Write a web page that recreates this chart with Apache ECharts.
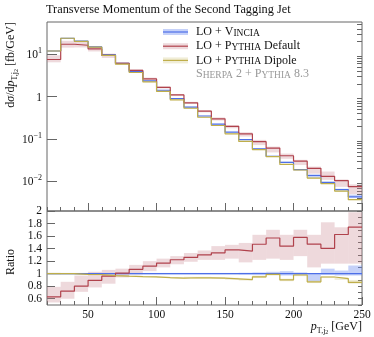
<!DOCTYPE html>
<html>
<head>
<meta charset="utf-8">
<script src="https://cdn.jsdelivr.net/npm/echarts@6.0.0/dist/echarts.min.js"></script>
<style>
html, body { margin: 0; padding: 0; background: #fff; }
#chart { width: 374px; height: 337px; }
</style>
</head>
<body>
<div id="chart"></div>
<script>
// bin edges in GeV
var binEdges = [20, 30, 40, 50, 60, 70, 80, 90, 100, 110, 120, 130, 140, 150, 160, 170, 180, 190, 200, 210, 220, 230, 240, 250];

// dsigma/dpT [fb/GeV]
var vincia = [12.0, 24.0, 20.5, 15.0, 9.8, 6.1, 3.9, 2.35, 1.42, 0.9, 0.57, 0.35, 0.225, 0.145, 0.097, 0.059, 0.039, 0.028, 0.019, 0.0138, 0.0094, 0.0064, 0.0043];
var pythiaDefault = [7.56, 17.3, 16.4, 13.4, 9.4, 6.16, 4.17, 2.63, 1.66, 1.10, 0.718, 0.455, 0.30, 0.20, 0.132, 0.0867, 0.0612, 0.0403, 0.030, 0.0203, 0.0132, 0.0104, 0.0075];
var pythiaDipole = [12.0, 24.0, 20.3, 14.8, 9.5, 5.86, 3.72, 2.23, 1.33, 0.837, 0.533, 0.327, 0.209, 0.133, 0.0878, 0.056, 0.0386, 0.0252, 0.0186, 0.0120, 0.0089, 0.0059, 0.0037];

// uncertainty bands, as ratio to Vincia
var vinciaLo = [0.988, 0.988, 0.988, 0.988, 0.988, 0.988, 0.988, 0.988, 0.988, 0.988, 0.988, 0.988, 0.988, 0.988, 0.985, 0.985, 0.99, 0.97, 0.98, 0.88, 0.98, 0.97, 0.97];
var vinciaHi = [1.012, 1.012, 1.012, 1.012, 1.012, 1.012, 1.012, 1.012, 1.012, 1.012, 1.012, 1.012, 1.012, 1.012, 1.015, 1.02, 1.03, 1.04, 1.02, 1.01, 1.08, 1.05, 1.13];
var defaultLo = [0.54, 0.60, 0.71, 0.78, 0.84, 0.94, 0.99, 1.04, 1.10, 1.15, 1.19, 1.22, 1.22, 1.24, 1.18, 1.22, 1.24, 1.22, 1.28, 1.10, 1.16, 1.16, 1.16];
var defaultHi = [0.79, 0.87, 0.97, 1.03, 1.06, 1.08, 1.14, 1.20, 1.24, 1.28, 1.33, 1.37, 1.44, 1.46, 1.49, 1.62, 1.70, 1.62, 1.70, 1.62, 1.82, 1.74, 1.98];
var dipoleLo = [0.985, 0.99, 0.98, 0.975, 0.96, 0.95, 0.945, 0.94, 0.93, 0.92, 0.92, 0.92, 0.915, 0.905, 0.89, 0.93, 0.97, 0.88, 0.96, 0.85, 0.93, 0.90, 0.84];
var dipoleHi = [1.015, 1.01, 1.00, 0.995, 0.98, 0.97, 0.965, 0.96, 0.95, 0.94, 0.95, 0.95, 0.945, 0.935, 0.92, 0.97, 1.01, 0.92, 1.00, 0.89, 0.96, 0.94, 0.90];

var xMajor = [50, 100, 150, 200, 250];
var ratioLabels = [0.6, 0.8, 1, 1.2, 1.4, 1.6, 1.8, 2];
var logLabels = [0.01, 0.1, 1, 10];

var F = 'Liberation Serif';
var tickColor = '#666';
var colors = {
    vincia: { line: '#4d6fe8', band: 'rgba(110,140,240,0.40)' },
    def: { line: '#b0424c', band: 'rgba(200,130,138,0.30)' },
    dip: { line: '#bfae4a', band: 'rgba(200,190,110,0.28)' }
};

// minor tick positions
var xMinor = [];
for (var e = 20; e <= 250; e += 10) xMinor.push(e);
var logMinor = [];
[0.001, 0.01, 0.1, 1, 10].forEach(function (d) {
    for (var k = 2; k <= 9; k++) logMinor.push(+(d * k).toPrecision(3));
});
var ratioMinor = [];
for (var r = 5; r <= 20; r++) ratioMinor.push(r / 10);

function steps(vals) {
    var d = vals.map(function (v, i) { return [binEdges[i], v]; });
    d.push([binEdges[vals.length], vals[vals.length - 1]]);
    return d;
}
function ratio(vals) {
    return vals.map(function (v, i) { return v / vincia[i]; });
}
function scale(r) {
    return r.map(function (v, i) { return v * vincia[i]; });
}
function lineSeries(name, data, color, xi, yi) {
    return {
        name: name, type: 'line', step: 'end', data: steps(data),
        xAxisIndex: xi, yAxisIndex: yi, showSymbol: false, silent: true,
        lineStyle: { color: color, width: 1.2 }, animation: false
    };
}
function bandSeries(lo, hi, color, xi, yi) {
    return {
        type: 'custom', xAxisIndex: xi, yAxisIndex: yi, silent: true, clip: true, animation: false,
        data: lo.map(function (l, i) { return [binEdges[i], binEdges[i + 1], l, hi[i]]; }),
        encode: { x: [0, 1], y: [2, 3] },
        renderItem: function (params, api) {
            var p0 = api.coord([api.value(0), api.value(3)]);
            var p1 = api.coord([api.value(1), api.value(2)]);
            return { type: 'rect', shape: { x: p0[0], y: p0[1], width: p1[0] - p0[0], height: p1[1] - p0[1] }, style: { fill: color } };
        }
    };
}
function xAxisDef(grid, ticks, len, labels) {
    return {
        type: 'value', gridIndex: grid, min: 20, max: 250, position: 'bottom',
        axisLine: { show: false, onZero: false }, splitLine: { show: false },
        axisTick: { show: true, inside: true, length: len, customValues: ticks, lineStyle: { color: tickColor } },
        axisLabel: labels ? { show: true, customValues: xMajor, margin: 4, fontFamily: F, fontSize: 11.5, color: '#111' } : { show: false }
    };
}

var richBase = {
    n: { fontFamily: F, fontSize: 12, fill: '#111', verticalAlign: 'middle', lineHeight: 16 },
    i: { fontFamily: F, fontSize: 12, fontStyle: 'italic', fill: '#111', verticalAlign: 'middle', lineHeight: 16 },
    s: { fontFamily: F, fontSize: 8, fill: '#111', verticalAlign: 'bottom', lineHeight: 10 },
    t: { fontFamily: F, fontSize: 6, fill: '#111', verticalAlign: 'bottom', lineHeight: 8 },
    sc: { fontFamily: F, fontSize: 9.5, fill: '#111', verticalAlign: 'middle', lineHeight: 14, padding: [2, 0, 0, 0] },
    g: { fontFamily: F, fontSize: 12, fill: '#999', verticalAlign: 'middle', lineHeight: 16 },
    gsc: { fontFamily: F, fontSize: 9.5, fill: '#999', verticalAlign: 'middle', lineHeight: 14, padding: [2, 0, 0, 0] }
};

var legendItems = [
    { text: '{n|LO + V}{sc|INCIA}', c: colors.vincia },
    { text: '{n|LO + P}{sc|YTHIA}{n| Default}', c: colors.def },
    { text: '{n|LO + P}{sc|YTHIA}{n| Dipole}', c: colors.dip }
];
var graphics = [
    { type: 'text', x: 46, y: 10, style: { text: 'Transverse Momentum of the Second Tagging Jet', fontFamily: F, fontSize: 12.3, fill: '#111', textVerticalAlign: 'middle' } },
    { type: 'text', x: 11, y: 22, rotation: Math.PI / 2, style: { text: '{n|d}{i|σ}{n|/d}{i|p}{s|T,j}{t|2}{n| [fb/GeV]}', rich: richBase, textAlign: 'right', textVerticalAlign: 'middle' } },
    { type: 'text', x: 11, y: 262, rotation: Math.PI / 2, style: { text: '{n|Ratio}', rich: richBase, textAlign: 'center', textVerticalAlign: 'middle' } },
    { type: 'text', x: 362, y: 327, style: { text: '{i|p}{s|T,j}{t|2}{n| [GeV]}', rich: richBase, textAlign: 'right', textVerticalAlign: 'middle' } },
    { type: 'text', x: 196, y: 74, style: { text: '{g|S}{gsc|HERPA}{g| 2 + P}{gsc|YTHIA}{g| 8.3}', rich: richBase, textVerticalAlign: 'middle' } }
];
legendItems.forEach(function (it, k) {
    var cy = 32 + k * 14.2;
    graphics.push({ type: 'rect', shape: { x: 163, y: cy - 3, width: 25, height: 6 }, style: { fill: it.c.band } });
    graphics.push({ type: 'line', shape: { x1: 163, y1: cy, x2: 188, y2: cy }, style: { stroke: it.c.line, lineWidth: 1.2 } });
    graphics.push({ type: 'text', x: 196, y: cy, style: { text: it.text, rich: richBase, textVerticalAlign: 'middle' } });
});

var option = {
    backgroundColor: '#fff',
    animation: false,
    grid: [
        { left: 47, top: 22, width: 315, height: 189, show: true, borderColor: tickColor, borderWidth: 1, backgroundColor: 'transparent' },
        { left: 47, top: 211, width: 315, height: 94, show: true, borderColor: tickColor, borderWidth: 1, backgroundColor: 'transparent' }
    ],
    xAxis: [
        xAxisDef(0, xMajor, 8, false),
        xAxisDef(0, xMinor, 4, false),
        xAxisDef(1, xMajor, 8, true),
        xAxisDef(1, xMinor, 4, false)
    ],
    yAxis: [
        {
            type: 'log', logBase: 10, gridIndex: 0, min: 0.002, max: 58,
            axisLine: { show: false }, splitLine: { show: false },
            axisTick: { show: true, inside: true, length: 10, customValues: logLabels, lineStyle: { color: tickColor } },
            axisLabel: {
                customValues: logLabels, margin: 5,
                formatter: function (v) {
                    var p = Math.round(Math.log(v) / Math.LN10);
                    if (p === 0) return '{b|1}';
                    return '{b|10}{p|' + (p < 0 ? '−' + (-p) : p) + '}';
                },
                rich: {
                    b: { fontFamily: F, fontSize: 11.5, color: '#111', verticalAlign: 'bottom', lineHeight: 14 },
                    p: { fontFamily: F, fontSize: 8, color: '#111', verticalAlign: 'top', lineHeight: 9 }
                }
            }
        },
        {
            type: 'log', logBase: 10, gridIndex: 0, min: 0.002, max: 58,
            axisLine: { show: false }, splitLine: { show: false },
            axisTick: { show: true, inside: true, length: 5, customValues: logMinor, lineStyle: { color: tickColor } },
            axisLabel: { show: false }
        },
        {
            type: 'value', gridIndex: 1, min: 0.5, max: 2,
            axisLine: { show: false, onZero: false }, splitLine: { show: false },
            axisTick: { show: true, inside: true, length: 8, customValues: ratioLabels, lineStyle: { color: tickColor } },
            axisLabel: {
                customValues: ratioLabels, margin: 5, fontFamily: F, fontSize: 11.5, color: '#111',
                formatter: function (v) { return String(+(+v).toFixed(1)); }
            }
        },
        {
            type: 'value', gridIndex: 1, min: 0.5, max: 2,
            axisLine: { show: false, onZero: false }, splitLine: { show: false },
            axisTick: { show: true, inside: true, length: 4, customValues: ratioMinor, lineStyle: { color: tickColor } },
            axisLabel: { show: false }
        }
    ],
    graphic: graphics,
    series: [
        bandSeries(scale(vinciaLo), scale(vinciaHi), colors.vincia.band, 0, 0),
        bandSeries(scale(defaultLo), scale(defaultHi), colors.def.band, 0, 0),
        bandSeries(scale(dipoleLo), scale(dipoleHi), colors.dip.band, 0, 0),
        lineSeries('LO + Vincia', vincia, colors.vincia.line, 0, 0),
        lineSeries('LO + Pythia Default', pythiaDefault, colors.def.line, 0, 0),
        lineSeries('LO + Pythia Dipole', pythiaDipole, colors.dip.line, 0, 0),

        bandSeries(vinciaLo, vinciaHi, colors.vincia.band, 2, 2),
        bandSeries(defaultLo, defaultHi, colors.def.band, 2, 2),
        bandSeries(dipoleLo, dipoleHi, colors.dip.band, 2, 2),
        lineSeries('LO + Vincia', ratio(vincia), colors.vincia.line, 2, 2),
        lineSeries('LO + Pythia Default', ratio(pythiaDefault), colors.def.line, 2, 2),
        lineSeries('LO + Pythia Dipole', ratio(pythiaDipole), colors.dip.line, 2, 2)
    ]
};

var chart = echarts.init(document.getElementById('chart'));
chart.setOption(option);
</script>
</body>
</html>
